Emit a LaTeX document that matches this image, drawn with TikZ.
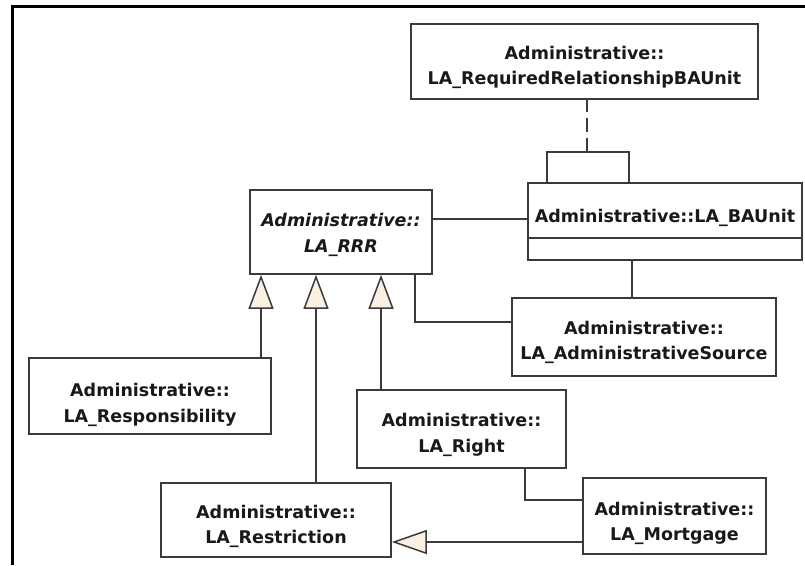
\documentclass[tikz,border=0pt]{standalone}
\usepackage{fontspec}
\setmainfont{DejaVu Sans}
\usetikzlibrary{arrows.meta}
\definecolor{edge}{HTML}{3A3A3A}
\definecolor{tri}{HTML}{FAF0E1}

\begin{document}
\begin{tikzpicture}[x=1pt,y=-1pt,
  cls/.style={draw=edge, line width=1.6pt, fill=white, inner sep=0pt},
  txt/.style={inner sep=0pt, align=center, text=black!90,
    font=\fontsize{17.5}{25.5}\selectfont\bfseries},
  link/.style={draw=edge, line width=1.5pt},
  gen/.style={link, -{Triangle[width=25pt,length=34pt,fill=tri]}},
  genh/.style={link, -{Triangle[width=24pt,length=35pt,fill=tri]}},
]
\useasboundingbox (0,0) rectangle (805,565);

% outer frame
\draw[line width=3pt] (12,565) -- (12,6) -- (805,6);

% classes
\node[cls, minimum width=347pt, minimum height=75pt] (req) at (584.5,61.5) {};
\node[txt] (req-t) at (584.5,67.2) {Administrative::\\LA\_RequiredRelationshipBAUnit};

\node[cls, minimum width=274pt, minimum height=77pt] (ba) at (665,221.5) {};
\node[txt, anchor=base] (ba-t) at (665,222) {Administrative::LA\_BAUnit};
\draw[edge, line width=1.5pt] (ba.west |- 0,238) -- (ba.east |- 0,238);

\node[cls, minimum width=182pt, minimum height=84pt] (rrr) at (341,232) {};
\node[txt, font=\fontsize{17.5}{25.5}\selectfont\bfseries\itshape] (rrr-t) at (341,235) {Administrative::\\LA\_RRR};

\node[cls, minimum width=264pt, minimum height=78pt] (src) at (644,337) {};
\node[txt] (src-t) at (644,342.5) {Administrative::\\LA\_AdministrativeSource};

\node[cls, minimum width=242pt, minimum height=76pt] (resp) at (150,396) {};
\node[txt] (resp-t) at (150,405) {Administrative::\\LA\_Responsibility};

\node[cls, minimum width=209pt, minimum height=78pt] (right) at (461.5,429) {};
\node[txt] (right-t) at (461.5,435) {Administrative::\\LA\_Right};

\node[cls, minimum width=230pt, minimum height=74pt] (restr) at (276,520) {};
\node[txt] (restr-t) at (276,526.5) {Administrative::\\LA\_Restriction};

\node[cls, minimum width=183pt, minimum height=76pt] (mort) at (674.5,516) {};
\node[txt] (mort-t) at (674.5,523.2) {Administrative::\\LA\_Mortgage};

% self association of the basic administrative unit with its association class
\coordinate (selfmid) at (587,152);
\draw[link] (ba.north -| 547,0) |- (selfmid) -| (ba.north -| 629,0);
\draw[link, dash pattern=on 14pt off 6pt] (selfmid) -- (req.south -| selfmid);

% associations
\draw[link] (rrr.east |- 0,219) -- (ba.west |- 0,219);
\draw[link] (ba.south -| 632,0) -- (src.north -| 632,0);
\draw[link] (rrr.south -| 415,0) |- (src.west |- 0,322);
\draw[link] (right.south -| 525,0) |- (mort.west |- 0,500);

% generalizations
\draw[gen] (resp.north -| 261,0) -- (rrr.south -| 261,0);
\draw[gen] (restr.north -| 316,0) -- (rrr.south -| 316,0);
\draw[gen] (right.north -| 381,0) -- (rrr.south -| 381,0);
\draw[genh] (mort.west |- 0,542) -- (restr.east |- 0,542);
\end{tikzpicture}
\end{document}
